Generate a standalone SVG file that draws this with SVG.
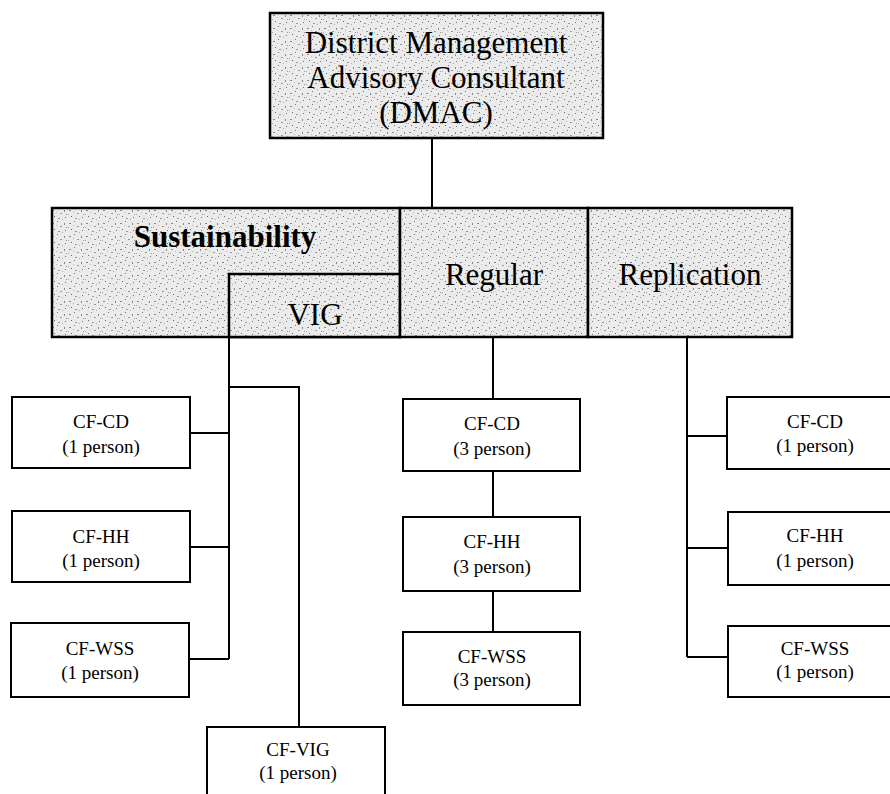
<svg xmlns="http://www.w3.org/2000/svg" width="890" height="794" viewBox="0 0 890 794">
<defs>
<pattern id="stip" width="17" height="13" patternUnits="userSpaceOnUse">
<rect width="17" height="13" fill="#ebebeb"/>
<rect x="1" y="2" width="2" height="1" fill="#888"/>
<rect x="6" y="0" width="1" height="1" fill="#777"/>
<rect x="9" y="5" width="2" height="1" fill="#999"/>
<rect x="13" y="2" width="1" height="2" fill="#888"/>
<rect x="3" y="8" width="1" height="1" fill="#666"/>
<rect x="7" y="10" width="2" height="1" fill="#999"/>
<rect x="14" y="9" width="1" height="1" fill="#777"/>
<rect x="11" y="11" width="1" height="1" fill="#aaa"/>
<rect x="0" y="6" width="1" height="1" fill="#aaa"/>
<rect x="5" y="4" width="1" height="1" fill="#bbb"/>
<rect x="15" y="6" width="1" height="1" fill="#999"/>
</pattern>
<style>
.box{fill:#fff;stroke:#000;stroke-width:2}
.shade{fill:url(#stip);stroke:#000;stroke-width:2.5}
.big{font-family:"Liberation Serif","Times New Roman",serif;font-size:31px;fill:#000;text-anchor:middle}
.sm{font-family:"Liberation Serif","Times New Roman",serif;font-size:19px;fill:#000;text-anchor:middle}
.ln{stroke:#000;stroke-width:2;fill:none}
</style>
</defs>
<rect width="890" height="794" fill="#fff"/>

<g id="connectors">
<path class="ln" d="M432 138V208"/>
<path class="ln" d="M229 337V659M190 433H229M190 547H229M189 659H229"/>
<path class="ln" d="M229 387H299V727"/>
<path class="ln" d="M493 337V399M493 471V517M493 591V632"/>
<path class="ln" d="M687 337V657M687 436H727M687 548H728M687 657H728"/>
</g>

<g id="dmac">
<rect class="shade" x="270" y="13" width="333" height="125"/>
<text class="big" x="436" y="53">District Management</text>
<text class="big" x="436" y="88">Advisory Consultant</text>
<text class="big" x="436" y="123">(DMAC)</text>
</g>

<g id="sustainability">
<rect class="shade" x="52" y="208" width="348" height="129"/>
<text class="big" x="225" y="247" font-weight="bold">Sustainability</text>
</g>
<g id="vig">
<rect class="shade" x="229" y="274" width="171" height="63"/>
<text class="big" x="315" y="325" font-size="30">VIG</text>
</g>
<g id="regular">
<rect class="shade" x="400" y="208" width="188" height="129"/>
<text class="big" x="494" y="285">Regular</text>
</g>
<g id="replication">
<rect class="shade" x="588" y="208" width="204" height="129"/>
<text class="big" x="690" y="285">Replication</text>
</g>

<g id="s-cfcd"><rect class="box" x="12" y="397" width="178" height="71"/><text class="sm" x="101" y="428">CF-CD</text><text class="sm" x="101" y="453">(1 person)</text></g>
<g id="s-cfhh"><rect class="box" x="12" y="511" width="178" height="71"/><text class="sm" x="101" y="543">CF-HH</text><text class="sm" x="101" y="567">(1 person)</text></g>
<g id="s-cfwss"><rect class="box" x="11" y="623" width="178" height="74"/><text class="sm" x="100" y="655">CF-WSS</text><text class="sm" x="100" y="679">(1 person)</text></g>
<g id="s-cfvig"><rect class="box" x="207" y="727" width="178" height="74"/><text class="sm" x="298" y="756">CF-VIG</text><text class="sm" x="298" y="779">(1 person)</text></g>

<g id="r-cfcd"><rect class="box" x="403" y="399" width="177" height="72"/><text class="sm" x="492" y="430">CF-CD</text><text class="sm" x="492" y="455">(3 person)</text></g>
<g id="r-cfhh"><rect class="box" x="403" y="517" width="177" height="74"/><text class="sm" x="492" y="548">CF-HH</text><text class="sm" x="492" y="573">(3 person)</text></g>
<g id="r-cfwss"><rect class="box" x="403" y="632" width="177" height="73"/><text class="sm" x="492" y="663">CF-WSS</text><text class="sm" x="492" y="686">(3 person)</text></g>

<g id="p-cfcd"><rect class="box" x="727" y="397" width="178" height="72"/><text class="sm" x="815" y="428">CF-CD</text><text class="sm" x="815" y="452">(1 person)</text></g>
<g id="p-cfhh"><rect class="box" x="728" y="512" width="178" height="73"/><text class="sm" x="815" y="542">CF-HH</text><text class="sm" x="815" y="567">(1 person)</text></g>
<g id="p-cfwss"><rect class="box" x="728" y="626" width="178" height="71"/><text class="sm" x="815" y="655">CF-WSS</text><text class="sm" x="815" y="678">(1 person)</text></g>
</svg>
